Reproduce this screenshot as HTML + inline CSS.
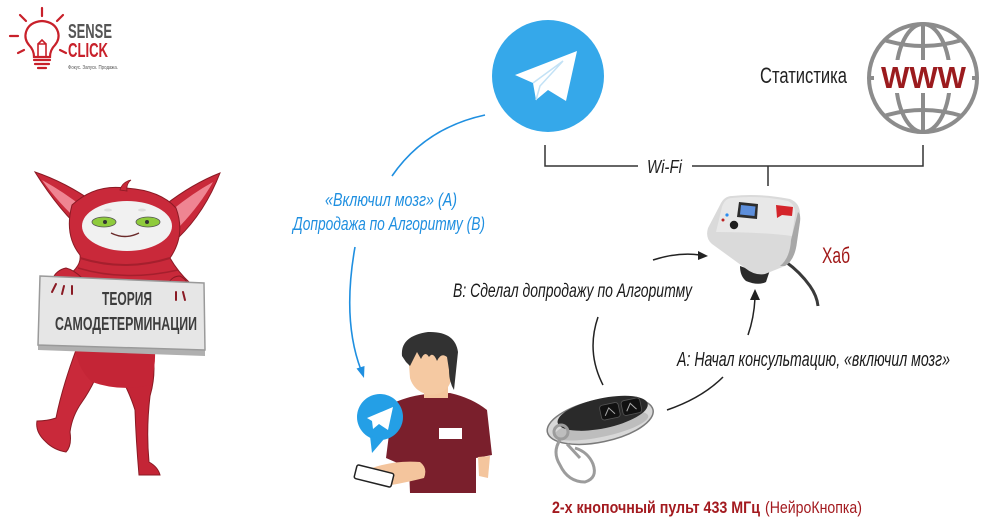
<!DOCTYPE html>
<html><head><meta charset="utf-8"><style>
html,body{margin:0;padding:0;background:#fff;}
svg{display:block;}
text{font-family:"Liberation Sans","Noto Sans CJK SC",sans-serif;}
</style></head><body>
<svg width="1000" height="529" viewBox="0 0 1000 529" xmlns="http://www.w3.org/2000/svg">
<rect width="1000" height="529" fill="#fff"/>

<!-- LOGO -->
<g stroke="#c8202a" stroke-width="2.2" fill="none" stroke-linecap="round">
  <line x1="42" y1="8" x2="42" y2="16"/>
  <line x1="20" y1="15" x2="26" y2="21"/>
  <line x1="63" y1="15" x2="57" y2="21"/>
  <line x1="10" y1="36" x2="18" y2="36"/>
  <line x1="18" y1="53" x2="24" y2="50"/>
  <line x1="66" y1="53" x2="60" y2="50"/>
  <path d="M34,57 Q34,50 29,45 Q24,39 26,32 Q29,22 42,21 Q55,22 58,32 Q60,39 55,45 Q50,50 50,57 Z"/>
  <path d="M38,56 L38,44 L46,44 L46,56 M38,44 L42,40 L46,44" stroke-width="1.6"/>
  <line x1="34" y1="60" x2="50" y2="60"/>
  <line x1="35" y1="64" x2="49" y2="64"/>
  <line x1="38" y1="68" x2="46" y2="68"/>
</g>
<text x="68" y="38" font-size="20" font-weight="bold" fill="#555" textLength="44" lengthAdjust="spacingAndGlyphs">SENSE</text>
<text x="68" y="57" font-size="20" font-weight="bold" fill="#c8202a" textLength="40" lengthAdjust="spacingAndGlyphs">CLICK</text>
<text x="68" y="69" font-size="5" fill="#555" textLength="50" lengthAdjust="spacingAndGlyphs">Фокус. Запуск. Продажа.</text>

<!-- MONSTER -->
<path d="M35,172 Q65,182 95,203 L86,234 Q60,212 35,172 Z" fill="#c9293a" stroke="#8a1a24" stroke-width="1"/>
<path d="M42,180 Q64,192 84,208 L80,222 Q60,205 42,180 Z" fill="#ef8592"/>
<path d="M220,173 Q192,184 165,205 L178,238 Q205,212 220,173 Z" fill="#c9293a" stroke="#8a1a24" stroke-width="1"/>
<path d="M213,182 Q193,193 172,210 L180,226 Q200,205 213,182 Z" fill="#ef8592"/>
<path d="M76,350 L106,352 Q96,382 82,402 Q72,416 70,432 Q72,446 66,452 Q54,450 46,442 Q35,432 37,421 Q47,421 56,418 Q62,388 76,350 Z" fill="#c9293a" stroke="#8a1a24" stroke-width="1"/>
<path d="M106,352 L153,354 Q156,376 150,396 Q146,430 149,462 Q158,467 160,475 L139,475 Q136,440 135,410 Q127,384 106,352 Z" fill="#c42536" stroke="#8a1a24" stroke-width="1"/>
<path d="M74,345 L155,348 Q156,368 150,385 Q120,392 92,382 Q78,370 74,345 Z" fill="#c42536"/>
<path d="M72,205 Q95,184 125,188 Q160,190 176,208 Q186,235 170,258 Q178,272 190,283 L62,279 Q82,268 80,255 Q64,235 72,205 Z" fill="#c9293a" stroke="#8a1a24" stroke-width="1"/>
<path d="M120,190 Q122,182 131,180 Q126,184 127,191 Z" fill="#c9293a" stroke="#8a1a24" stroke-width="0.8"/>
<path d="M80,258 Q125,272 170,258" fill="none" stroke="#a51f2d" stroke-width="2"/>
<path d="M78,268 Q125,282 178,270" fill="none" stroke="#a51f2d" stroke-width="1.5"/>
<ellipse cx="127" cy="226" rx="45" ry="25" fill="#f1f1f1"/>
<ellipse cx="108" cy="210" rx="4" ry="1.5" fill="#ddd"/>
<ellipse cx="142" cy="210" rx="4" ry="1.5" fill="#ddd"/>
<ellipse cx="104" cy="222" rx="12" ry="5" fill="#8fcb3c" stroke="#555" stroke-width="0.8"/>
<circle cx="105" cy="222" r="2" fill="#333"/>
<ellipse cx="148" cy="222" rx="12" ry="5" fill="#8fcb3c" stroke="#555" stroke-width="0.8"/>
<circle cx="147" cy="222" r="2" fill="#333"/>
<path d="M111,233 Q125,240 139,233" fill="none" stroke="#6a2a2a" stroke-width="1.4"/>
<path d="M52,280 Q56,270 66,268 Q74,270 82,278 L80,286 L60,288 Z" fill="#c9293a" stroke="#8a1a24" stroke-width="1"/>
<path d="M168,284 Q172,276 180,276 Q188,280 190,290 L186,298 L176,296 Z" fill="#c9293a" stroke="#8a1a24" stroke-width="1"/>
<path d="M38,345 L205,350 L205,356 L38,350 Z" fill="#b0b0b0"/>
<path d="M40,276 L204,283 L205,350 L38,345 Z" fill="#e6e6e6" stroke="#9a9a9a" stroke-width="1.5"/>
<text x="102" y="305" font-size="18" font-weight="bold" fill="#3d3d3d" textLength="50" lengthAdjust="spacingAndGlyphs">ТЕОРИЯ</text>
<text x="55" y="330" font-size="18" font-weight="bold" fill="#3d3d3d" textLength="142" lengthAdjust="spacingAndGlyphs">САМОДЕТЕРМИНАЦИИ</text>
<path d="M56,284 L52,292 M64,286 L62,294 M72,286 L72,294" stroke="#8a1a24" stroke-width="2" stroke-linecap="round"/>
<path d="M176,292 L176,300 M183,292 L185,300" stroke="#8a1a24" stroke-width="2" stroke-linecap="round"/>

<!-- TELEGRAM BIG -->
<circle cx="548" cy="76" r="56" fill="#35a8ea"/>
<path d="M515,75 L577,51 L566,101 L548,90 L536,100 L533,83 Z" fill="#fff"/>
<path d="M533,83 L563,61 L540,86 L536,100" fill="none" stroke="#c3e2f6" stroke-width="1.5"/>

<!-- WWW globe -->
<g fill="none" stroke="#8c8c8c" stroke-width="4">
  <circle cx="923" cy="78" r="54"/>
  <ellipse cx="923" cy="78" rx="27" ry="54"/>
  <line x1="923" y1="24" x2="923" y2="132"/>
  <path d="M884,40 Q923,52 962,40"/>
  <path d="M884,116 Q923,104 962,116"/>
  <line x1="869" y1="78" x2="977" y2="78"/>
</g>
<rect x="874" y="60" width="98" height="33" fill="#fff"/>
<text x="881" y="88" font-size="31" font-weight="bold" fill="#9b1b1e" textLength="85" lengthAdjust="spacingAndGlyphs">WWW</text>
<text x="760" y="83" font-size="22" fill="#222" textLength="87" lengthAdjust="spacingAndGlyphs">Статистика</text>

<!-- WiFi lines -->
<g stroke="#333" stroke-width="1.5" fill="none">
  <path d="M545,145 L545,166 L638,166"/>
  <path d="M692,166 L923,166 L923,145"/>
  <line x1="768" y1="166" x2="768" y2="186"/>
</g>
<text x="647" y="173" font-size="18" font-style="italic" fill="#222" textLength="35" lengthAdjust="spacingAndGlyphs">Wi-Fi</text>

<!-- HUB -->
<path d="M740,266 L762,274 L770,270 L766,282 Q758,286 746,281 Q740,276 740,266 Z" fill="#2b2b2b"/>
<path d="M786,262 Q800,272 810,286 Q817,296 818,306" fill="none" stroke="#3a3a3a" stroke-width="3"/>
<path d="M732,196 Q760,193 790,199 Q800,203 800,214 L797,240 Q795,260 785,266 L765,274 Q755,276 745,268 L712,244 Q705,238 708,228 L720,205 Q724,196 732,196 Z" fill="#dadada"/>
<path d="M732,198 Q760,195 788,201 Q796,205 795,215 L792,236 Q760,232 716,232 L722,207 Q725,198 732,198 Z" fill="#e8e8e8"/>
<path d="M798,212 Q801,214 800,222 L797,242 Q795,260 785,266 L780,266 Q790,258 791,240 Z" fill="#a8a8a8"/>
<path d="M739,202 L758,204 L757,219 L737,217 Z" fill="#2d2d2d"/>
<path d="M741,205 L755.5,206.5 L754.5,216 L740,214.5 Z" fill="#5d8fdc"/>
<path d="M776,205 L793,207 L792,216 L782,215 L777,218 Z" fill="#d4242a"/>
<circle cx="727" cy="215" r="1.6" fill="#2a8cf0"/>
<circle cx="723" cy="220" r="1.5" fill="#b22"/>
<circle cx="734" cy="225" r="4.2" fill="#1e1e1e"/>
<text x="822" y="263" font-size="22" fill="#a01818" textLength="28" lengthAdjust="spacingAndGlyphs">Хаб</text>

<!-- connectors black -->
<g fill="none" stroke="#222" stroke-width="1.5">
  <path d="M653,260 Q678,252 700,255"/>
  <path d="M598,317 Q586,352 603,385"/>
  <path d="M667,410 Q702,398 723,377"/>
  <path d="M748,335 Q754,318 755,298"/>
</g>
<polygon points="708,256 698,251 698,260" fill="#222"/>
<polygon points="755,289 750,300 760,300" fill="#222"/>
<text x="453" y="297" font-size="19.5" font-style="italic" fill="#1a1a1a" textLength="239" lengthAdjust="spacingAndGlyphs">В: Сделал допродажу по Алгоритму</text>
<text x="677" y="366" font-size="20" font-style="italic" fill="#1a1a1a" textLength="273" lengthAdjust="spacingAndGlyphs">А: Начал консультацию, «включил мозг»</text>

<!-- blue connectors -->
<g fill="none" stroke="#1f8fe0" stroke-width="1.6">
  <path d="M485,115 Q425,128 392,176"/>
  <path d="M355,247 Q342,320 361,370"/>
</g>
<polygon points="364,378 356.5,368.5 364.5,366" fill="#1f8fe0"/>
<text x="325" y="206" font-size="18" font-style="italic" fill="#1f8fe0" textLength="132" lengthAdjust="spacingAndGlyphs">«Включил мозг» (А)</text>
<text x="293" y="230" font-size="18" font-style="italic" fill="#1f8fe0" textLength="192" lengthAdjust="spacingAndGlyphs">Допродажа по Алгоритму (В)</text>

<!-- PERSON -->
<path d="M393,403 Q412,395 428,394 L450,393 Q472,398 487,410 L492,455 L476,458 L476,493 L410,493 L409,468 L386,458 Z" fill="#7a1f2c"/>
<path d="M478,457 L490,456 L488,478 L479,476 Z" fill="#f4c59d"/>
<rect x="424" y="382" width="24" height="16" fill="#f4c59d"/>
<path d="M408,352 Q410,342 430,341 Q450,342 452,356 L451,380 Q448,394 430,395 Q414,392 410,378 Z" fill="#f5c9a2"/>
<path d="M402,356 Q400,336 428,332 Q455,331 458,352 L454,390 Q449,382 449,370 L447,357 Q441,352 437,361 Q433,351 429,357 Q425,350 421,359 L417,352 L410,366 L406,362 Z" fill="#323232"/>
<path d="M372,468 Q395,460 420,462 Q428,468 424,478 Q400,484 384,486 Z" fill="#f4c59d"/>
<g transform="rotate(14 374 476)">
  <rect x="355" y="469" width="38" height="14" rx="2" fill="#fff" stroke="#222" stroke-width="1.5"/>
</g>
<rect x="439" y="428" width="23" height="11" fill="#fff"/>
<circle cx="380" cy="417" r="23" fill="#249fe6"/>
<path d="M370,436 L372,453 L384,439 Z" fill="#249fe6"/>
<path d="M367,418 L393,407 L388,430 L379,424 L373,429 L372,421 Z" fill="#fff"/>

<!-- KEYFOB -->
<g transform="rotate(-12 600 420)">
  <ellipse cx="600" cy="421" rx="54" ry="21" fill="#d8d8d8" stroke="#7a7a7a" stroke-width="1.5"/>
  <ellipse cx="600" cy="426" rx="48" ry="11" fill="#bdbdbd"/>
  <ellipse cx="604" cy="414" rx="46" ry="15" fill="#2a2a2a"/>
  <rect x="602" y="406" width="19" height="15" rx="3" fill="#111" stroke="#555" stroke-width="0.8"/>
  <rect x="624" y="406" width="19" height="15" rx="3" fill="#111" stroke="#555" stroke-width="0.8"/>
  <path d="M606,417 L611,410 L616,417 M628,417 L633,410 L638,417" stroke="#aaa" stroke-width="1" fill="none"/>
</g>
<g fill="none" stroke="#9c9c9c" stroke-width="3">
  <circle cx="561" cy="432" r="7"/>
  <path d="M560,440 Q552,452 560,465 Q568,482 585,482 Q598,478 593,464 Q588,452 575,448"/>
  <path d="M567,444 L580,458"/>
</g>
<text x="552" y="513" font-size="17" font-weight="bold" fill="#a31a1f" textLength="208" lengthAdjust="spacingAndGlyphs">2-х кнопочный пульт 433 МГц</text>
<text x="765" y="513" font-size="17" fill="#a31a1f" textLength="97" lengthAdjust="spacingAndGlyphs">(НейроКнопка)</text>
</svg>
</body></html>
